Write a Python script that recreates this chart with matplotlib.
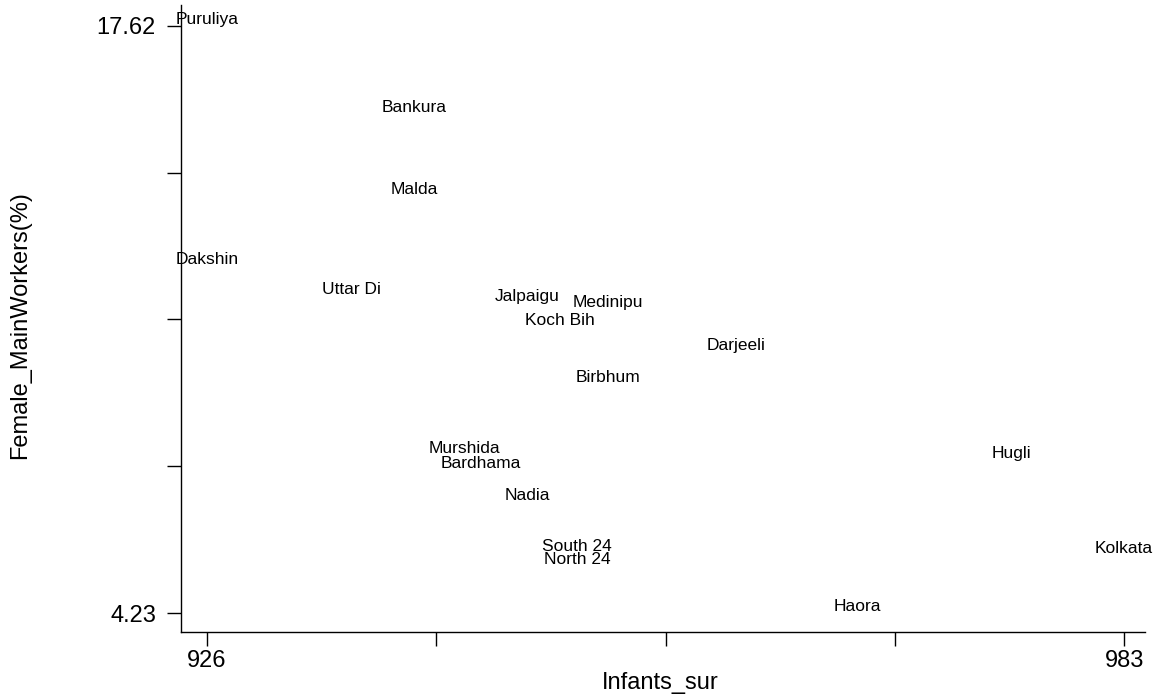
import matplotlib
matplotlib.use("Agg")
import matplotlib.pyplot as plt

plt.rcParams['font.family'] = ['Liberation Sans', 'DejaVu Sans']

# districts of West Bengal (labels are truncated to 8 chars as in the source)
districts = ["Puruliya", "Bankura", "Malda", "Dakshin", "Uttar Di", "Jalpaigu",
             "Medinipu", "Koch Bih", "Darjeeli", "Birbhum", "Murshida", "Bardhama",
             "Nadia", "South 24", "North 24", "Hugli", "Kolkata", "Haora"]
infants_sur = [926, 938.9, 938.9, 926, 935.0, 945.9,
               950.9, 947.9, 958.9, 950.9, 942.0, 943.0,
               945.9, 949.0, 949.0, 976.0, 983, 966.4]
female_main = [17.62, 15.61, 13.74, 12.14, 11.46, 11.30,
               11.16, 10.75, 10.18, 9.47, 7.83, 7.51,
               6.78, 5.60, 5.32, 7.72, 5.55, 4.23]

xticks = [926, 940.25, 954.5, 968.75, 983]
xticklabels = ["926", "", "", "", "983"]
yticks = [4.23, 7.5775, 10.925, 14.2725, 17.62]
yticklabels = ["4.23", "", "", "", "17.62"]

fig = plt.figure(figsize=(11.63, 6.94), dpi=100)
ax = fig.add_axes([0.1556, 0.0893, 0.829, 0.904])

# labels only, no markers (Stata mlabel style)
for name, x, y in zip(districts, infants_sur, female_main):
    ax.text(x, y + 0.14, name, ha="center", va="center", fontsize=12.5)

ax.set_xlim(924.38, 984.3)
ax.set_ylim(3.797, 18.10)
ax.set_xticks(xticks)
ax.set_xticklabels(xticklabels)
ax.set_yticks(yticks)
ax.set_yticklabels(yticklabels)
ax.tick_params(direction="out", length=10, width=1, labelsize=17, colors="black")
ax.tick_params(axis="y", pad=8)
ax.tick_params(axis="x", pad=3)

for s in ["top", "right"]:
    ax.spines[s].set_visible(False)
for s in ["left", "bottom"]:
    ax.spines[s].set_linewidth(1)

ax.set_xlabel("Infants_sur", fontsize=17)
ax.set_ylabel("Female_MainWorkers(%)", fontsize=17)
ax.xaxis.label.set_va("center")
ax.yaxis.label.set_va("center")
ax.xaxis.set_label_coords(0.497, -0.081)
ax.yaxis.set_label_coords(-0.167, 0.49)

fig.savefig("out.png", dpi=100)
